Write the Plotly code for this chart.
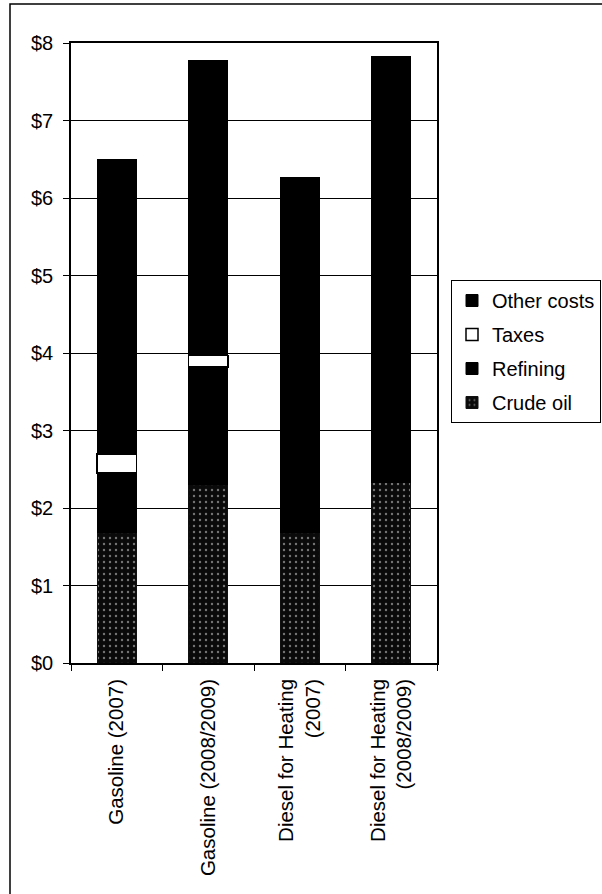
import plotly.graph_objects as go

# Cost breakdown per category (dollars), stacked bottom to top
categories = [
    "Gasoline (2007)",
    "Gasoline (2008/2009)",
    "Diesel for Heating<br>(2007)",
    "Diesel for Heating<br>(2008/2009)",
]
crude_oil = [1.68, 2.30, 1.69, 2.33]
refining = [0.77, 1.52, 0.80, 1.40]
taxes = [0.25, 0.15, 0.0, 0.0]
other_costs = [3.80, 3.80, 3.77, 4.09]

tick_vals = [0, 1, 2, 3, 4, 5, 6, 7, 8]
tick_text = ["$0", "$1", "$2", "$3", "$4", "$5", "$6", "$7", "$8"]

FONT = "Liberation Sans, Arial, sans-serif"
W, H = 602, 894
L, R, T, B = 71, 165, 43, 231
PW, PH = W - L - R, H - T - B

fig = go.Figure()

fig.add_trace(go.Bar(
    name="Crude oil", x=categories, y=crude_oil, legendgroup="d", legendrank=4,
    marker=dict(color="black", line=dict(color="#111", width=1),
                pattern=dict(shape=".", fgcolor="#e0e0e0", bgcolor="#0a0a0a",
                             size=6, solidity=0.12)),
))
fig.add_trace(go.Bar(
    name="Refining", x=categories, y=refining, legendgroup="c", legendrank=3,
    marker=dict(color="black", line=dict(color="black", width=1)),
))
fig.add_trace(go.Bar(
    name="Taxes", x=categories, y=taxes, legendgroup="b", legendrank=2,
    marker=dict(color="white", line=dict(color="black", width=1.5)),
))
fig.add_trace(go.Bar(
    name="Other costs", x=categories, y=other_costs, legendgroup="a", legendrank=1,
    marker=dict(color="black", line=dict(color="black", width=1)),
))

# outer frame around the whole chart
fig.add_shape(type="rect", xref="paper", yref="paper",
              x0=(10 - L) / PW, x1=(604 - L) / PW,
              y0=-0.38, y1=(H - B - 4) / PH,
              line=dict(color="black", width=1.5), fillcolor="rgba(0,0,0,0)")

fig.update_layout(
    width=W, height=H,
    margin=dict(l=L, r=R, t=T, b=B, pad=0, autoexpand=False),
    barmode="stack",
    bargap=0.57,
    paper_bgcolor="white",
    plot_bgcolor="white",
    font=dict(family=FONT, size=20, color="black"),
    showlegend=True,
    legend=dict(
        x=(451 - L) / PW, xanchor="left",
        y=(H - B - 280) / PH, yanchor="top",
        traceorder="grouped",
        tracegroupgap=5,
        bordercolor="black", borderwidth=1,
        bgcolor="white",
        font=dict(family=FONT, size=20, color="black"),
        itemwidth=30,
    ),
    xaxis=dict(
        showline=True, linecolor="black", linewidth=1.5, mirror=True,
        ticks="outside", ticklen=6, tickcolor="black", tickwidth=1,
        tickson="boundaries", tickangle=-90,
        ticklabelstandoff=6,
        showgrid=False,
        tickfont=dict(family=FONT, size=20.5, color="black"),
    ),
    yaxis=dict(
        range=[0, 8],
        tickvals=tick_vals, ticktext=tick_text,
        showline=True, linecolor="black", linewidth=1.5, mirror=True,
        ticks="outside", ticklen=6, tickcolor="black", tickwidth=1,
        showgrid=True, gridcolor="black", gridwidth=1,
        zeroline=False,
        ticklabelstandoff=6,
        tickfont=dict(family=FONT, size=20, color="black"),
    ),
)

fig.write_html("out.html")
